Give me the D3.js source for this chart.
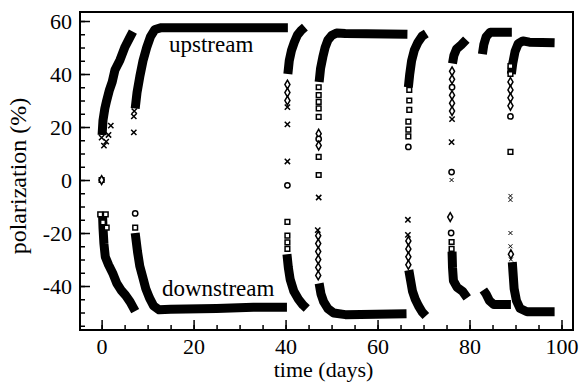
<!DOCTYPE html>
<html>
<head>
<meta charset="utf-8">
<script src="https://cdn.jsdelivr.net/npm/d3@7/dist/d3.min.js"></script>
<style>
body { margin: 0; background: #fff; }
text { font-family: "Liberation Serif", "Times New Roman", serif; fill: #000; }
</style>
</head>
<body>
<svg width="580" height="386"></svg>
<script>
// dense runs of points as [day, polarization %]
var upstream = [
  [[0.1,17],[0.3,22.5],[0.7,27],[1.1,30],[1.7,34],[2.3,37],[2.9,41.5],[4.0,45.3],[5.1,50.3],[6.2,54],[6.8,56]],
  [[7.3,27],[7.7,33],[8.3,39],[9.0,45],[9.8,50],[10.6,54],[11.6,56.8],[13,57.5],[40.5,57.5]],
  [[40.5,40],[40.8,45],[41.3,49],[41.9,52],[42.6,54.8],[43.4,56.5],[44.2,57.7]],
  [[47.3,37],[47.6,42],[48.1,46.4],[48.6,50],[49.2,52.8],[50.0,54.5],[51.1,55.5],[53,55.3],[66.5,55]],
  [[66.7,35],[67.0,40],[67.4,45],[68.0,49],[68.8,52],[69.7,54.3],[70.6,55.3]],
  [[76.3,44],[76.6,47],[77.2,49.5],[78.2,51],[79.3,53]],
  [[82.8,47.5],[83.1,51],[83.6,54],[84.5,55.8],[89.2,55.8]],
  [[89.1,40],[89.4,44],[89.9,48.5],[90.6,51.5],[91.6,52.5],[93,52],[98.5,51.8]]
];
var downstream = [
  [[0.2,-13],[0.3,-18],[0.5,-24],[0.8,-29],[1.5,-32],[2.5,-35.5],[3.3,-39],[4.2,-41.5],[5.2,-43.5],[6.2,-46],[7.3,-49.5]],
  [[7.3,-20],[7.8,-27],[8.3,-32.5],[9.0,-37],[9.6,-41],[10.4,-44.5],[11.3,-47.5],[12.5,-49],[15,-48.8],[25,-48.5],[33,-48],[40.3,-48]],
  [[40.3,-28],[40.6,-33],[41.0,-37.5],[41.8,-42],[42.8,-45],[43.8,-47.2],[44.6,-48.5]],
  [[47.3,-39],[47.7,-43],[48.3,-46],[49.2,-48.5],[50.5,-50.2],[53,-50.8],[66.3,-50.5]],
  [[66.8,-34],[67.2,-38],[67.6,-42],[68.2,-45],[68.9,-47.5],[69.7,-49.8],[70.5,-51.3]],
  [[76.2,-27],[76.3,-33],[76.5,-38],[77.3,-40.5],[78.5,-42],[79.5,-44.5]],
  [[83.0,-41.5],[83.6,-43],[84.3,-45.5],[85.3,-47],[89,-47]],
  [[89.3,-31],[89.5,-36],[89.7,-41],[90.2,-45.5],[91,-48.5],[92.5,-49.7],[98.5,-49.7]]
];
// isolated markers [day, polarization, symbol]
var sparse = [
  [0,0,"square"],[0,0,"diamond"],
  [0.0,16,"x"],[0.5,13,"x"],[1.0,14.5,"x"],[1.5,17,"x"],[0.3,19,"x"],[2.0,20.5,"x"],
  [7.0,18,"x"],[7.0,24,"x"],[7.1,26,"x"],
  [-0.3,-13,"square"],[0.9,-13,"square"],[0.3,-16,"square"],[1.1,-18,"square"],
  [7.3,-12.6,"circle"],[7.3,-18,"square"],
  [40.4,36,"diamond"],[40.4,33,"diamond"],[40.4,30,"diamond"],[40.4,27.5,"x"],[40.4,21,"x"],[40.4,7,"x"],[40.4,-2,"circle"],
  [40.4,-15.8,"square"],[40.4,-21,"square"],[40.4,-23.5,"square"],[40.4,-26,"square"],
  [47.2,35,"square"],[47.2,32,"square"],[47.2,29.5,"square"],[47.2,27,"square"],[47.2,23.8,"square"],
  [47.2,17.5,"diamond"],[47.2,15.5,"circle"],[47.2,13,"diamond"],[47.2,8.7,"square"],[47.2,1.9,"square"],[47.2,-6.6,"x"],
  [47.0,-18.9,"x"],[47.1,-21,"diamond"],[47.1,-24,"diamond"],[47.1,-27,"diamond"],[47.1,-30,"diamond"],[47.1,-33,"diamond"],[47.1,-36,"diamond"],
  [66.9,34,"square"],[66.9,30,"square"],[66.9,26.5,"square"],[66.7,22,"square"],[66.7,19,"square"],[66.7,16.5,"square"],[66.7,12.5,"circle"],
  [66.6,-15,"x"],[66.6,-20.7,"x"],[66.7,-23,"diamond"],[66.7,-26,"diamond"],[66.7,-29,"diamond"],[66.7,-32,"diamond"],
  [76.2,41,"diamond"],[76.2,38,"diamond"],[76.2,35,"circle"],[76.2,32,"diamond"],[76.2,29,"diamond"],[76.2,26,"diamond"],[76.2,23,"x"],
  [76.1,14.3,"x"],[76.1,3,"circle"],[76.1,0,"dot"],
  [75.8,-14,"diamond"],[76.0,-20,"circle"],[76.1,-23.4,"square"],[76.1,-26,"square"],
  [88.9,43,"square"],[88.9,40,"square"],[88.9,37,"diamond"],[88.9,34,"diamond"],[88.9,31,"diamond"],[88.9,28,"diamond"],
  [88.9,24,"circle"],[88.9,10.6,"square"],[88.9,-6,"dot"],
  [88.9,-7.5,"dot"],[88.9,-20,"dot"],[88.9,-25,"dot"],[89.0,-28,"diamond"],[89.0,-30,"dot"]
];
var xMajor = [0, 20, 40, 60, 80, 100];
var yMajor = [-40, -20, 0, 20, 40, 60];
var xMinor = d3.range(0, 101, 5);
var yMinor = d3.range(-55, 61, 5);

var svg = d3.select("svg"),
    plotLeft = 80, plotRight = 573, plotTop = 12, plotBottom = 330;

var x = d3.scaleLinear().domain([-4.7, 102.5]).range([plotLeft, plotRight]);
var y = d3.scaleLinear().domain([-56.6, 63.4]).range([plotBottom, plotTop]);

var line = d3.line()
    .x(function(d) { return x(d[0]); })
    .y(function(d) { return y(d[1]); });

var bands = svg.append("g")
    .attr("fill", "none")
    .attr("stroke", "#000")
    .attr("stroke-width", 9)
    .attr("stroke-linejoin", "round");

bands.selectAll(".up")
    .data(upstream)
    .enter()
    .append("path")
      .attr("d", line);

bands.selectAll(".down")
    .data(downstream)
    .enter()
    .append("path")
      .attr("d", line);

var shapes = {
  square: d3.symbolSquare,
  diamond: d3.symbolDiamond,
  circle: d3.symbolCircle,
  x: d3.symbolX,
  dot: d3.symbolX
};

svg.append("g")
  .selectAll("path")
  .data(sparse)
  .enter()
  .append("path")
    .attr("transform", function(d) { return "translate(" + x(d[0]) + "," + y(d[1]) + ")"; })
    .attr("d", function(d) {
      var size = d[2] == "dot" ? 12 : (d[2] == "x" ? 20 : 22);
      return d3.symbol().type(shapes[d[2]]).size(size)();
    })
    .attr("fill", function(d) { return (d[2] == "x" || d[2] == "dot") ? "none" : "#fff"; })
    .attr("stroke", "#000")
    .attr("stroke-width", function(d) { return d[2] == "dot" ? 1 : 1.5; });

// axes: inward ticks on left and bottom only, hyphen minus like the original
var plain = function(d) { return String(d); };

var gx = svg.append("g").attr("transform", "translate(0," + plotBottom + ")");
gx.call(d3.axisBottom(x).tickValues(xMinor).tickSize(-5).tickFormat(""));
gx.append("g").call(d3.axisBottom(x).tickValues(xMajor).tickSize(-10).tickPadding(8).tickFormat(plain));

var gy = svg.append("g").attr("transform", "translate(" + plotLeft + ",0)");
gy.call(d3.axisLeft(y).tickValues(yMinor).tickSize(-5).tickFormat(""));
gy.append("g").call(d3.axisLeft(y).tickValues(yMajor).tickSize(-10).tickPadding(8).tickFormat(plain));

svg.selectAll(".domain").remove();
svg.selectAll(".tick line").attr("stroke", "#000").attr("stroke-width", 1.5);
svg.selectAll(".tick text")
    .style("font-family", "'Liberation Serif', serif")
    .style("font-size", "22px");

svg.append("rect")
    .attr("x", plotLeft).attr("y", plotTop)
    .attr("width", plotRight - plotLeft).attr("height", plotBottom - plotTop)
    .attr("fill", "none").attr("stroke", "#000").attr("stroke-width", 2);

svg.append("text")
    .attr("x", (plotLeft + plotRight) / 2 - 3)
    .attr("y", 377)
    .attr("text-anchor", "middle")
    .style("font-size", "22px")
    .text("time (days)");

svg.append("text")
    .attr("transform", "translate(26,176) rotate(-90)")
    .attr("text-anchor", "middle")
    .style("font-size", "24px")
    .text("polarization (%)");

svg.append("text")
    .attr("x", 169).attr("y", 52)
    .style("font-size", "23px")
    .text("upstream");

svg.append("text")
    .attr("x", 162).attr("y", 296)
    .style("font-size", "23px")
    .text("downstream");
</script>
</body>
</html>
